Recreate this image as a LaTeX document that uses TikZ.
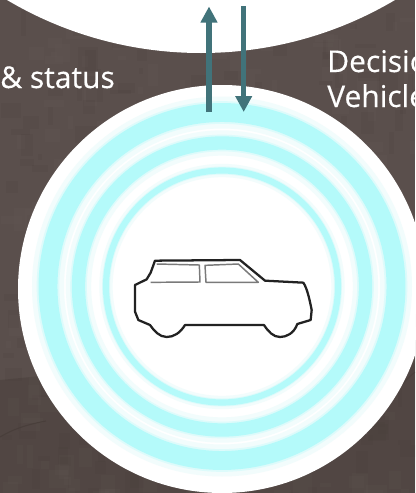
\documentclass[tikz,border=0pt]{standalone}
\usepackage{fontspec}
\setmainfont{Open Sans}
\newfontface\labfont{Open Sans}[FakeBold=0.35]
\usetikzlibrary{arrows.meta}
\definecolor{bgbrown}{HTML}{5A4F4C}
\definecolor{bgdark}{HTML}{473D39}
\definecolor{bglight}{HTML}{6E6460}
\definecolor{ringcyan}{HTML}{B4FAFA}
\definecolor{halo}{HTML}{F2FCFC}
\definecolor{halomid}{HTML}{DDFBFB}
\definecolor{arrowteal}{HTML}{41737A}
\definecolor{carline}{HTML}{222222}
\tikzset{
  x=0.75pt,y=-0.75pt,
  ring/.style={draw=ringcyan},
  ringhalo/.style={draw=halo},
  ringmid/.style={draw=halomid},
  label/.style={text=white,font=\labfont\fontsize{22.5pt}{26pt}\selectfont,inner sep=0pt,anchor=base west},
  flow/.style={draw=arrowteal,line width=4.1pt,-{Triangle[length=12pt,width=12pt,fill=arrowteal]}},
  carbody/.style={draw=carline,line width=1.7pt,line join=round,fill=white},
  carglass/.style={draw=carline!60,line width=1.1pt,line join=round},
}
\begin{document}
\begin{tikzpicture}
\useasboundingbox (0,0) rectangle (415,493);
\clip (0,0) rectangle (415,493);
\fill[bgbrown] (0,0) rectangle (415,493);
\fill[bgdark,opacity=0.45] (0,380) -- (415,340) -- (415,493) -- (0,493) -- cycle;
\pgfmathsetseed{4242}
\foreach \i in {1,...,450}{
  \pgfmathsetmacro{\px}{rnd*415}
  \pgfmathsetmacro{\py}{rnd*493}
  \pgfmathsetmacro{\pw}{4+rnd*18}
  \pgfmathsetmacro{\ph}{4+rnd*22}
  \pgfmathsetmacro{\pc}{rnd>0.5 ? 1 : 0}
  \ifdim\pc pt>0.5pt
    \fill[bglight,opacity=0.10] (\px,\py) rectangle ++(\pw,\ph);
  \else
    \fill[bgdark,opacity=0.14] (\px,\py) rectangle ++(\pw,\ph);
  \fi
}
\draw[bgdark,line width=0.8pt,opacity=0.8] (0,437) .. controls (15,428) and (30,424) .. (46,421);
\draw[bgdark,line width=0.8pt,opacity=0.6] (392,400) .. controls (400,385) and (408,378) .. (415,372);

% upper white shape and lower white disc
\fill[white] (201,-328) circle (381);
\fill[white] (222,289) circle (204);

% rings with soft edges
\coordinate (c) at (222,286.5);
\draw[ringhalo,line width=24pt] (c) circle (174);
\draw[ringhalo,line width=19pt] (c) circle (143.5);
\draw[ringhalo,line width=10pt] (c) circle (116);
\draw[ringmid,line width=17pt] (c) circle (174);
\draw[ringmid,line width=12.5pt] (c) circle (143.5);
\draw[ringmid,line width=6pt] (c) circle (116);
\draw[ring,line width=14.2pt] (c) circle (174);
\draw[ring,line width=10pt] (c) circle (143.5);
\draw[ring,line width=4.6pt] (c) circle (116);

% car
\begin{scope}[shift={(120,240)},x=0.25pt,y=-0.25pt]
\draw[carbody] (105,62) -- (360,60) -- (435,122) -- (550,128)
  .. controls (562,145) and (570,185) .. (575,210) -- (572,240) -- (532,252)
  .. controls (522,280) and (500,291) .. (480,291)
  .. controls (460,291) and (445,275) .. (432,255) -- (195,255)
  .. controls (180,280) and (160,291) .. (140,291)
  .. controls (118,291) and (102,272) .. (90,255) -- (55,240) -- (45,215) -- (45,135)
  -- (80,118) -- (92,98) -- cycle;
\draw[carglass] (110,72) -- (238,75) -- (240,126) -- (92,127);
\draw[carglass] (255,76) -- (355,72) -- (415,127) -- (258,127) -- cycle;
\end{scope}

% arrows
\coordinate (upS) at (209,112);
\coordinate (upE) at (209,6.5);
\coordinate (dnS) at (243.7,6);
\coordinate (dnE) at (243.7,112);
\draw[flow] (upS) -- (upE);
\draw[flow] (dnS) -- (dnE);

% labels
\node[label] (status) at (0,88) {\&~status};
\node[label] (decision) at (327,72) {Decisio};
\node[label] (vehicle) at (327,107) {Vehicle};
\end{tikzpicture}
\end{document}
